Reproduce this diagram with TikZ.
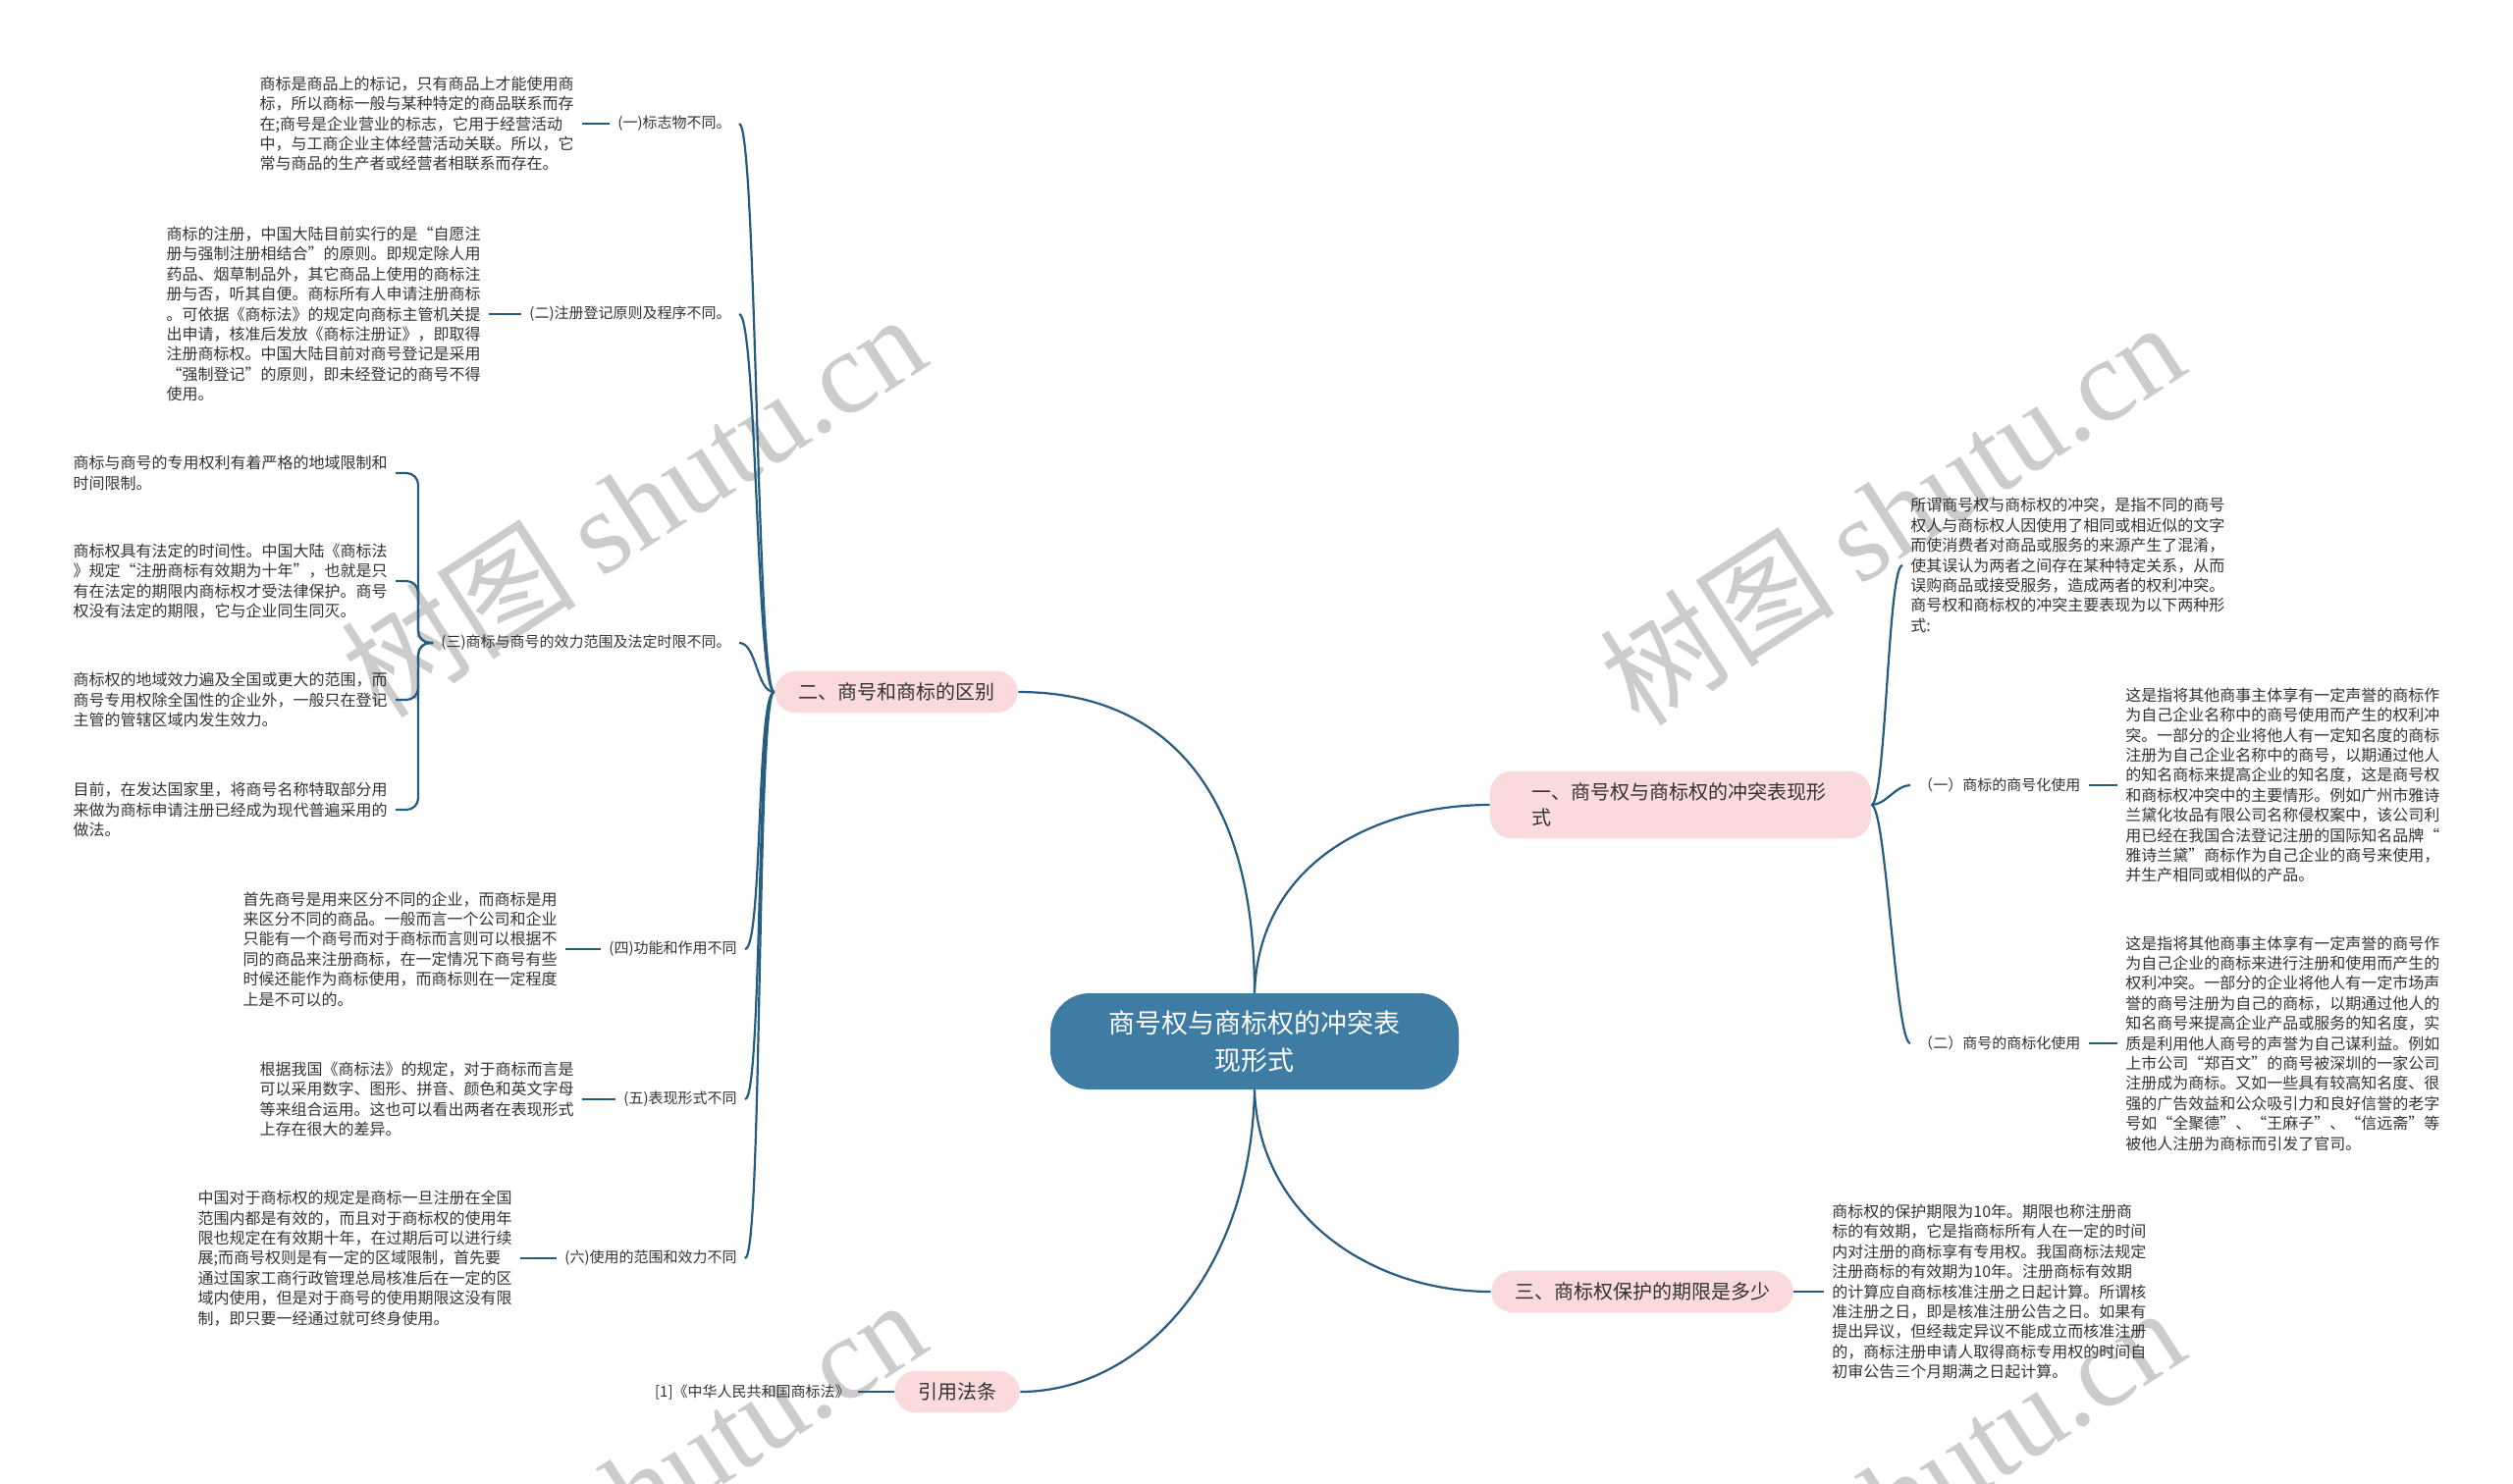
\documentclass[tikz,border=0pt]{standalone}
\usepackage{fontspec}
\setmainfont{Noto Sans CJK SC}
\newfontfamily\wmlatin{Liberation Serif}
\definecolor{rootblue}{RGB}{62,124,163}
\definecolor{topicpink}{RGB}{250,218,218}
\definecolor{linkblue}{RGB}{38,92,128}
\definecolor{textgray}{RGB}{51,51,51}

\begin{document}
\begin{tikzpicture}[x=0.5pt,y=0.5pt,
  root/.style={fill=rootblue,text=white,rounded corners=20pt,minimum width=208pt,
    minimum height=49pt,align=center,font=\fontsize{13.5pt}{18.8pt}\selectfont},
  topic/.style={fill=topicpink,rounded corners=11pt,inner xsep=12pt,inner ysep=6pt,
    text=textgray,font=\fontsize{10pt}{13pt}\selectfont},
  leaf/.style={inner sep=4pt,text=textgray,font=\fontsize{7.5pt}{9pt}\selectfont},
  para/.style={inner sep=4pt,align=left,text=textgray,font=\fontsize{8pt}{10.2pt}\selectfont},
  link/.style={draw=linkblue,line width=1.1pt},
  watermark/.style={text=black!20,rotate=33,font=\fontsize{60pt}{60pt}\selectfont}]
  \useasboundingbox (0,0) rectangle (2560,-1511);

  % watermarks
  \begin{scope}
    \clip (0,0) rectangle (2560,-1511);
    \node[watermark] (wm1) at (645,-514) {树图 {\wmlatin shutu.cn}};
    \node[watermark] (wm2) at (1927,-522) {树图 {\wmlatin shutu.cn}};
    \node[watermark] (wm3) at (645,-1518) {树图 {\wmlatin shutu.cn}};
    \node[watermark] (wm4) at (1927,-1526) {树图 {\wmlatin shutu.cn}};
  \end{scope}

  \node[root] (root) at (1278,-1061) {商号权与商标权的冲突表\\现形式};

  \node[topic] (T2) at (913,-705) {二、商号和商标的区别};
  \node[topic,align=left,text width=152pt,inner xsep=21pt] (T1) at (1712,-820) {一、商号权与商标权的冲突表现形\\式};
  \node[topic] (T3) at (1673,-1316) {三、商标权保护的期限是多少};
  \node[topic] (T4) at (975,-1418) {引用法条};

  % left side: differences
  \node[leaf,anchor=east] (L1) at (753,-126) {(一)标志物不同。};
  \node[para,anchor=east] (B1) at (593,-126) {商标是商品上的标记，只有商品上才能使用商\\
    标，所以商标一般与某种特定的商品联系而存\\
    在;商号是企业营业的标志，它用于经营活动\\
    中，与工商企业主体经营活动关联。所以，它\\
    常与商品的生产者或经营者相联系而存在。};

  \node[leaf,anchor=east] (L2) at (753,-320) {(二)注册登记原则及程序不同。};
  \node[para,anchor=east] (B2) at (498,-320) {商标的注册，中国大陆目前实行的是“自愿注\\
    册与强制注册相结合”的原则。即规定除人用\\
    药品、烟草制品外，其它商品上使用的商标注\\
    册与否，听其自便。商标所有人申请注册商标\\
    。可依据《商标法》的规定向商标主管机关提\\
    出申请，核准后发放《商标注册证》，即取得\\
    注册商标权。中国大陆目前对商号登记是采用\\
    “强制登记”的原则，即未经登记的商号不得\\
    使用。};

  \node[leaf,anchor=east] (L3) at (753,-655) {(三)商标与商号的效力范围及法定时限不同。};
  \node[para,anchor=east] (B3a) at (403,-482) {商标与商号的专用权利有着严格的地域限制和\\
    时间限制。};
  \node[para,anchor=east] (B3b) at (403,-592) {商标权具有法定的时间性。中国大陆《商标法\\
    》规定“注册商标有效期为十年”，也就是只\\
    有在法定的期限内商标权才受法律保护。商号\\
    权没有法定的期限，它与企业同生同灭。};
  \node[para,anchor=east] (B3c) at (403,-713) {商标权的地域效力遍及全国或更大的范围，而\\
    商号专用权除全国性的企业外，一般只在登记\\
    主管的管辖区域内发生效力。};
  \node[para,anchor=east] (B3d) at (403,-825) {目前，在发达国家里，将商号名称特取部分用\\
    来做为商标申请注册已经成为现代普遍采用的\\
    做法。};

  \node[leaf,anchor=east] (L4) at (759,-967) {(四)功能和作用不同};
  \node[para,anchor=east] (B4) at (576,-967) {首先商号是用来区分不同的企业，而商标是用\\
    来区分不同的商品。一般而言一个公司和企业\\
    只能有一个商号而对于商标而言则可以根据不\\
    同的商品来注册商标，在一定情况下商号有些\\
    时候还能作为商标使用，而商标则在一定程度\\
    上是不可以的。};

  \node[leaf,anchor=east] (L5) at (759,-1120) {(五)表现形式不同};
  \node[para,anchor=east] (B5) at (593,-1120) {根据我国《商标法》的规定，对于商标而言是\\
    可以采用数字、图形、拼音、颜色和英文字母\\
    等来组合运用。这也可以看出两者在表现形式\\
    上存在很大的差异。};

  \node[leaf,anchor=east] (L6) at (759,-1282) {(六)使用的范围和效力不同};
  \node[para,anchor=east] (B6) at (530,-1282) {中国对于商标权的规定是商标一旦注册在全国\\
    范围内都是有效的，而且对于商标权的使用年\\
    限也规定在有效期十年，在过期后可以进行续\\
    展;而商号权则是有一定的区域限制，首先要\\
    通过国家工商行政管理总局核准后在一定的区\\
    域内使用，但是对于商号的使用期限这没有限\\
    制，即只要一经通过就可终身使用。};

  % right side: conflicts
  \node[para,anchor=west] (R0) at (1938,-576) {所谓商号权与商标权的冲突，是指不同的商号\\
    权人与商标权人因使用了相同或相近似的文字\\
    而使消费者对商品或服务的来源产生了混淆，\\
    使其误认为两者之间存在某种特定关系，从而\\
    误购商品或接受服务，造成两者的权利冲突。\\
    商号权和商标权的冲突主要表现为以下两种形\\
    式:};

  \node[leaf,anchor=west] (RL1) at (1946,-800) {（一）商标的商号化使用};
  \node[para,anchor=west] (RB1) at (2157,-800) {这是指将其他商事主体享有一定声誉的商标作\\
    为自己企业名称中的商号使用而产生的权利冲\\
    突。一部分的企业将他人有一定知名度的商标\\
    注册为自己企业名称中的商号，以期通过他人\\
    的知名商标来提高企业的知名度，这是商号权\\
    和商标权冲突中的主要情形。例如广州市雅诗\\
    兰黛化妆品有限公司名称侵权案中，该公司利\\
    用已经在我国合法登记注册的国际知名品牌“\\
    雅诗兰黛”商标作为自己企业的商号来使用，\\
    并生产相同或相似的产品。};

  \node[leaf,anchor=west] (RL2) at (1946,-1063) {（二）商号的商标化使用};
  \node[para,anchor=west] (RB2) at (2157,-1063) {这是指将其他商事主体享有一定声誉的商号作\\
    为自己企业的商标来进行注册和使用而产生的\\
    权利冲突。一部分的企业将他人有一定市场声\\
    誉的商号注册为自己的商标，以期通过他人的\\
    知名商号来提高企业产品或服务的知名度，实\\
    质是利用他人商号的声誉为自己谋利益。例如\\
    上市公司“郑百文”的商号被深圳的一家公司\\
    注册成为商标。又如一些具有较高知名度、很\\
    强的广告效益和公众吸引力和良好信誉的老字\\
    号如“全聚德”、“王麻子”、“信远斋”等\\
    被他人注册为商标而引发了官司。};

  \node[para,anchor=west] (RB3) at (1858,-1316) {商标权的保护期限为10年。期限也称注册商\\
    标的有效期，它是指商标所有人在一定的时间\\
    内对注册的商标享有专用权。我国商标法规定\\
    注册商标的有效期为10年。注册商标有效期\\
    的计算应自商标核准注册之日起计算。所谓核\\
    准注册之日，即是核准注册公告之日。如果有\\
    提出异议，但经裁定异议不能成立而核准注册\\
    的，商标注册申请人取得商标专用权的时间自\\
    初审公告三个月期满之日起计算。};

  \node[leaf,anchor=east] (ref) at (874,-1418) {[1]《中华人民共和国商标法》};

  % root branches
  \draw[link] (root.north) .. controls +(0,230) and +(130,0) .. (T2.east);
  \draw[link] (root.north) .. controls +(4,130) and +(-120,0) .. (T1.west);
  \draw[link] (root.south) .. controls +(4,-130) and +(-120,0) .. (T3.west);
  \draw[link] (root.south) .. controls +(-4,-190) and +(120,0) .. (T4.east);

  % trunk of the left branch
  \foreach \leafname in {L1,L2,L3,L4,L5,L6}
    \draw[link] (T2.west) .. controls +(-18,0) and +(18,0) .. (\leafname.east);
  \foreach \blockname in {B3a,B3b,B3c,B3d}
    \draw[link,rounded corners=6pt] (L3.west) -- ++(-15,0) |- (\blockname.east);
  \path[link] (B1.east) edge (L1.west) (B2.east) edge (L2.west)
              (B4.east) edge (L4.west) (B5.east) edge (L5.west)
              (B6.east) edge (L6.west);

  % right branches
  \foreach \leafname in {R0,RL1,RL2}
    \draw[link] (T1.east) .. controls +(15,0) and +(-15,0) .. (\leafname.west);
  \path[link] (RL1.east) edge (RB1.west) (RL2.east) edge (RB2.west)
              (T3.east) edge (RB3.west) (T4.west) edge (ref.east);
\end{tikzpicture}
\end{document}
